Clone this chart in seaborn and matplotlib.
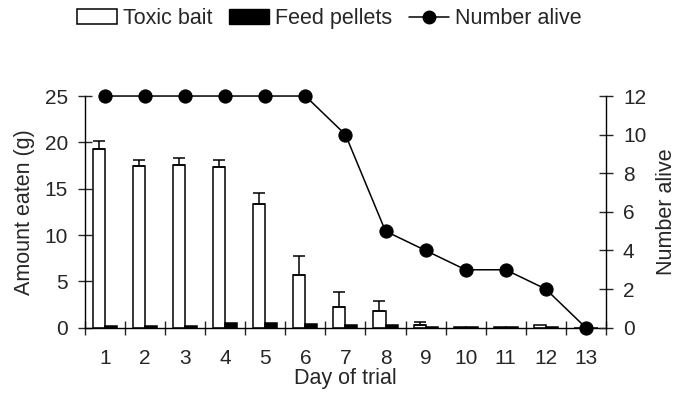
import numpy as np
import pandas as pd
import matplotlib
matplotlib.use("Agg")
import matplotlib.pyplot as plt
import seaborn as sns
from matplotlib.patches import Patch
from matplotlib.lines import Line2D
from matplotlib.ticker import FixedLocator

days = ["1", "2", "3", "4", "5", "6", "7", "8", "9", "10", "11", "12", "13"]
toxic_bait = [19.3, 17.5, 17.6, 17.3, 13.4, 5.7, 2.2, 1.8, 0.3, 0.1, 0.1, 0.25, 0.0]
toxic_err = [0.8, 0.6, 0.7, 0.8, 1.1, 2.0, 1.6, 1.1, 0.35, 0.0, 0.0, 0.0, 0.0]
feed_pellets = [0.15, 0.15, 0.2, 0.55, 0.55, 0.4, 0.3, 0.3, 0.1, 0.1, 0.1, 0.05, 0.0]
number_alive = [12, 12, 12, 12, 12, 12, 10, 5, 4, 3, 3, 2, 0]
series_names = ["Toxic bait", "Feed pellets", "Number alive"]

sns.set_style("ticks")
plt.rcParams["font.family"] = ["Liberation Sans", "DejaVu Sans"]
FS_TICK = 15
FS_LAB = 15.5

df = pd.DataFrame({
    "Day": days * 2,
    "Type": [series_names[0]] * len(days) + [series_names[1]] * len(days),
    "Amount": toxic_bait + feed_pellets,
})

fig = plt.figure(figsize=(6.8, 3.96), dpi=100)
ax = fig.add_axes([0.125, 0.1725, 0.766, 0.585])

sns.barplot(data=df, x="Day", y="Amount", hue="Type", order=days,
            hue_order=series_names[:2],
            palette={series_names[0]: "white", series_names[1]: "black"},
            edgecolor="black", linewidth=1.1, width=0.6, errorbar=None,
            ax=ax, legend=False)

# error bars (upper only) on toxic bait bars
bars = ax.containers[0]
xs = np.array([p.get_x() + p.get_width() / 2 for p in bars])
ys = np.array([p.get_height() for p in bars])
errs = np.array(toxic_err)
show = errs > 0
ax.errorbar(xs[show], ys[show],
            yerr=[np.zeros(show.sum()), errs[show]],
            fmt="none", ecolor="black", elinewidth=1.1, capsize=4, capthick=1.1)

ax.set_xlim(-0.5, len(days) - 0.5)
ax.set_ylim(0, 25)
ax.set_yticks([0, 5, 10, 15, 20, 25])
ax.set_xlabel("Day of trial", fontsize=FS_LAB, labelpad=0)
ax.set_ylabel("Amount eaten (g)", fontsize=FS_LAB, labelpad=7)
ax.tick_params(axis="x", which="major", length=0, labelsize=FS_TICK, pad=15)
ax.xaxis.set_minor_locator(FixedLocator(np.arange(-0.5, len(days), 1.0)))
ax.tick_params(axis="x", which="minor", direction="inout", length=9.5, width=1)
ax.tick_params(axis="y", direction="inout", length=9.5, width=1, labelsize=FS_TICK, pad=7.5)
for s in ["top", "right"]:
    ax.spines[s].set_visible(False)
for s in ["left", "bottom"]:
    ax.spines[s].set_linewidth(1)
    ax.spines[s].set_color("black")

ax2 = ax.twinx()
sns.lineplot(x=np.arange(len(days)), y=number_alive, ax=ax2, color="black",
             marker="o", markersize=9.5, markeredgecolor="black", linewidth=1.1,
             clip_on=False)
ax2.set_ylim(0, 12)
ax2.set_yticks([0, 2, 4, 6, 8, 10, 12])
ax2.set_ylabel("Number alive", fontsize=FS_LAB, labelpad=7)
ax2.tick_params(axis="y", direction="inout", length=9.5, width=1, labelsize=FS_TICK, pad=7.5)
for s in ["top", "left", "bottom"]:
    ax2.spines[s].set_visible(False)
ax2.spines["right"].set_linewidth(1)
ax2.spines["right"].set_color("black")

handles = [
    Patch(facecolor="white", edgecolor="black", linewidth=1.1),
    Patch(facecolor="black", edgecolor="black"),
    Line2D([0], [0], color="black", marker="o", markersize=9, linewidth=1.1),
]
fig.legend(handles, series_names, loc="center", bbox_to_anchor=(0.484, 0.953),
           ncol=3, frameon=False, fontsize=FS_LAB, handlelength=1.86,
           handleheight=0.65, handletextpad=0.3, columnspacing=0.75,
           borderpad=0.2)

fig.savefig("out.png", dpi=100)
